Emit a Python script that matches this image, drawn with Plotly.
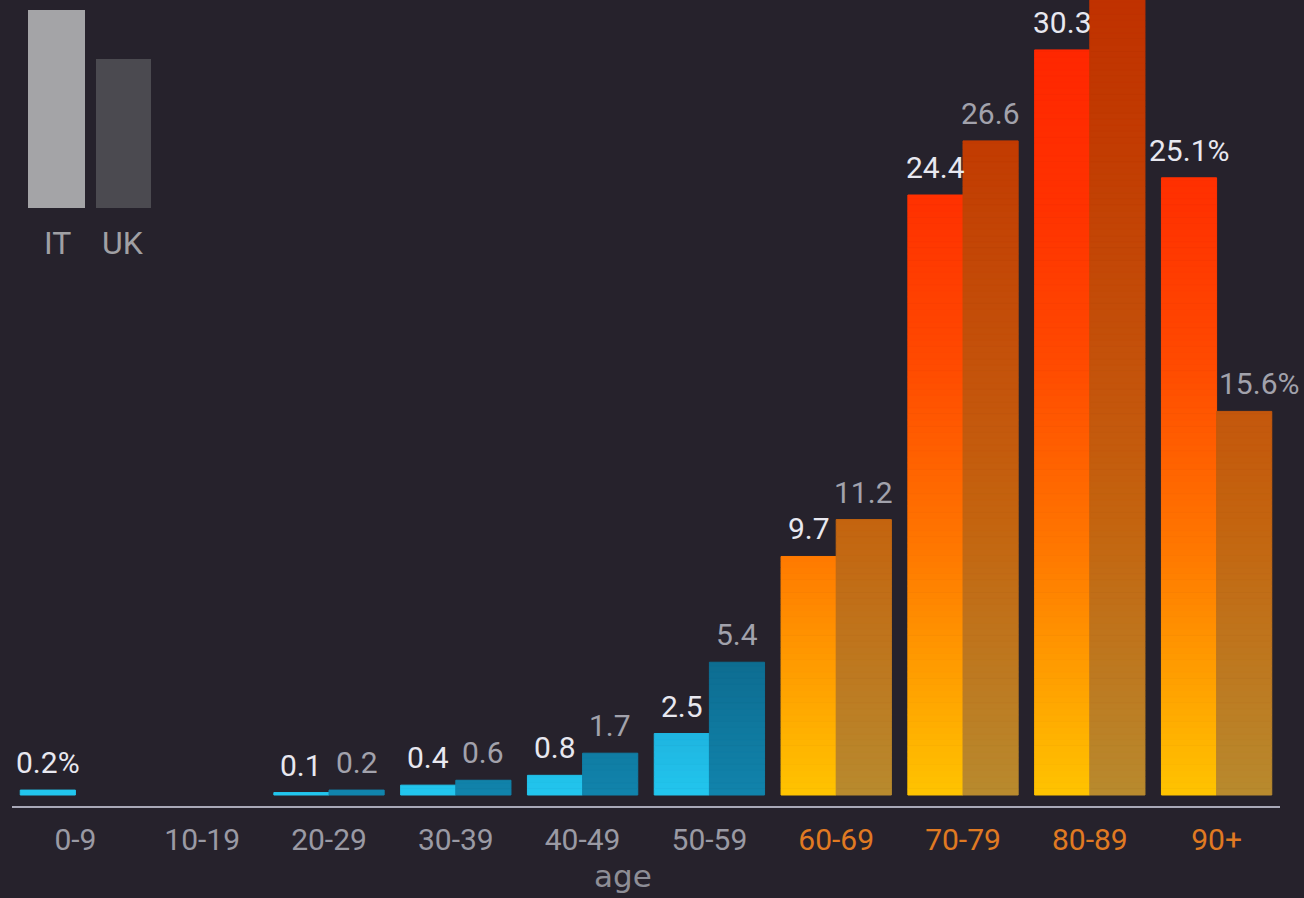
import plotly.graph_objects as go

# ---- data ----
age_groups = ["0-9", "10-19", "20-29", "30-39", "40-49", "50-59", "60-69", "70-79", "80-89", "90+"]
it_values = [0.2, 0.0, 0.1, 0.4, 0.8, 2.5, 9.7, 24.4, 30.3, 25.1]
uk_values = [0.0, 0.0, 0.2, 0.6, 1.7, 5.4, 11.2, 26.6, 38.7, 15.6]
it_pct_groups = ["0-9", "90+"]
uk_pct_groups = ["90+"]
old_groups = ["60-69", "70-79", "80-89", "90+"]

BG = "#26222c"
FONT = "Roboto, Liberation Sans, sans-serif"
STEP = 0.25
BARGAP = 0.13

blue_it_scale = [[0, "#22c6ee"], [1, "#1a9ccc"]]
blue_uk_scale = [[0, "#1184ac"], [1, "#0d6a8e"]]
warm_it_scale = [[0, "#ffc400"], [0.3, "#ff7a00"], [0.55, "#ff4a00"], [0.75, "#ff3200"], [1, "#ff2400"]]
warm_uk_scale = [[0, "#b88a2e"], [0.35, "#c4640f"], [0.5, "#c4560c"], [0.82, "#c23c02"], [1, "#c03200"]]


def segments(values, groups_subset):
    xs, bases, heights, mids = [], [], [], []
    for g, v in zip(age_groups, values):
        if g not in groups_subset:
            continue
        b = 0.0
        while b < v - 1e-9:
            h = min(STEP, v - b)
            xs.append(g)
            bases.append(b)
            heights.append(h)
            mids.append(b + h / 2)
            b += STEP
    return xs, bases, heights, mids


young_groups = [g for g in age_groups if g not in old_groups]

fig = go.Figure()
for name, vals, subset, scale, cmax, og in [
    ("IT", it_values, young_groups, blue_it_scale, 6, "IT"),
    ("IT", it_values, old_groups, warm_it_scale, 32, "IT"),
    ("UK", uk_values, young_groups, blue_uk_scale, 6, "UK"),
    ("UK", uk_values, old_groups, warm_uk_scale, 32, "UK"),
]:
    xs, bases, heights, mids = segments(vals, subset)
    fig.add_trace(go.Bar(
        x=xs, y=heights, base=bases, offsetgroup=og, name=name,
        marker=dict(color=mids, colorscale=scale, cmin=0, cmax=cmax,
                    line=dict(width=1, color=mids, colorscale=scale, cmin=0, cmax=cmax)),
        showlegend=False, hoverinfo="skip",
    ))

offset = (1 - BARGAP) / 4
annotations = []
for i, g in enumerate(age_groups):
    for vals, pct, sign, color in [
        (it_values, it_pct_groups, -1, "#e8e8f0"),
        (uk_values, uk_pct_groups, 1, "#a2a2ac"),
    ]:
        v = vals[i]
        if v <= 0:
            continue
        txt = f"{v:g}" + ("%" if g in pct else "")
        xshift = 15 if (sign == 1 and g == age_groups[-1]) else 0
        annotations.append(dict(
            x=i + sign * offset, y=v, xref="x", yref="y", text=txt, showarrow=False,
            yanchor="bottom", xanchor="center", yshift=8, xshift=xshift,
            font=dict(family=FONT, size=30, color=color),
        ))

# legend labels and axis title
annotations += [
    dict(x=(57 - 12) / 1268, y=(806 - 243) / 806, xref="paper", yref="paper", text="IT",
         xanchor="center", yanchor="middle",
         showarrow=False, font=dict(family=FONT, size=32, color="#a0a0a4")),
    dict(x=(123 - 12) / 1268, y=(806 - 243) / 806, xref="paper", yref="paper", text="UK",
         xanchor="center", yanchor="middle",
         showarrow=False, font=dict(family=FONT, size=32, color="#a0a0a4")),
    dict(x=(623 - 12) / 1268, y=(806 - 876) / 806, xref="paper", yref="paper", text="age",
         xanchor="center", yanchor="middle",
         showarrow=False, font=dict(family="DejaVu Sans, sans-serif", size=31, color="#8e8e96")),
]

shapes = [
    dict(type="rect", xref="paper", yref="paper", xsizemode="pixel", ysizemode="pixel",
         xanchor=0, yanchor=1, x0=16, x1=73, y0=-208, y1=-10,
         fillcolor="#a4a4a7", line=dict(width=0)),
    dict(type="rect", xref="paper", yref="paper", xsizemode="pixel", ysizemode="pixel",
         xanchor=0, yanchor=1, x0=84, x1=139, y0=-208, y1=-59,
         fillcolor="#4b4a50", line=dict(width=0)),
]

ticktext = [
    (f"<span style='color:#e07a22'>{g}</span>" if g in old_groups else f"<span style='color:#9a9aa4'>{g}</span>")
    for g in age_groups
]

fig.update_layout(
    width=1304, height=898,
    paper_bgcolor=BG, plot_bgcolor=BG,
    margin=dict(l=12, r=24, t=0, b=92, autoexpand=False),
    barmode="group", bargap=BARGAP, bargroupgap=0,
    annotations=annotations, shapes=shapes,
    xaxis=dict(
        type="category", categoryorder="array", categoryarray=age_groups,
        range=[-0.5, len(age_groups) - 0.5],
        tickmode="array", tickvals=age_groups, ticktext=ticktext,
        showline=True, linecolor="#a9a9b8", linewidth=2,
        ticks="outside", ticklen=6, tickcolor="rgba(0,0,0,0)",
        tickfont=dict(family=FONT, size=30, color="#9a9aa4"),
        showgrid=False, zeroline=False, fixedrange=True,
    ),
    yaxis=dict(range=[-0.447, 32.33], visible=False, showgrid=False, zeroline=False, fixedrange=True),
    font=dict(family=FONT),
)

fig.write_html("out.html")
